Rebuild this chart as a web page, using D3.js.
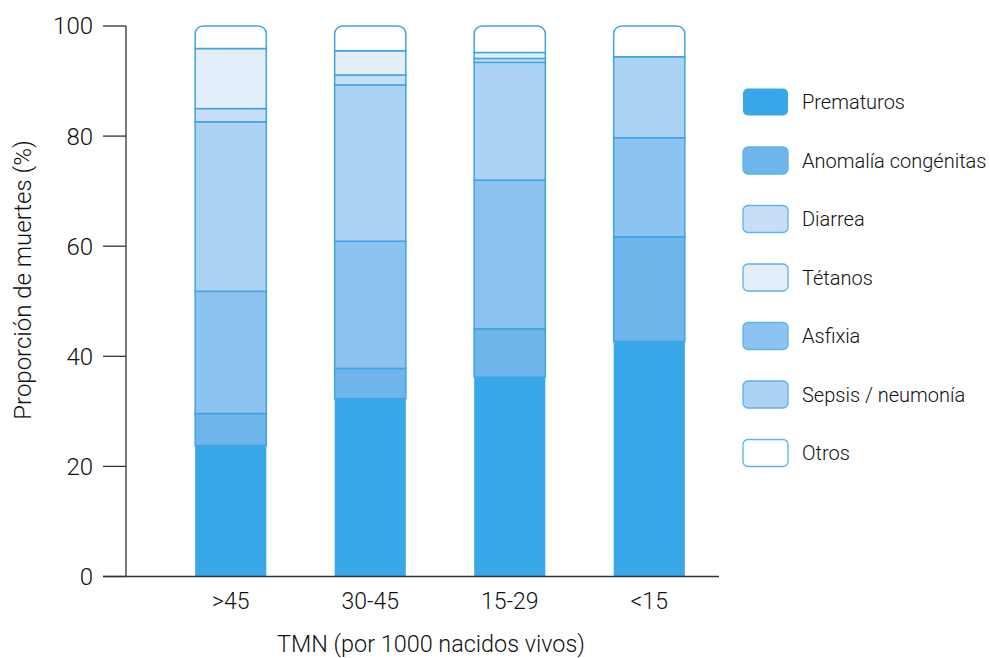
<!DOCTYPE html>
<html><head><meta charset="utf-8">
<script src="https://cdn.jsdelivr.net/npm/d3@7"></script>
<style>
body{margin:0;background:#fff;}
text{font-family:Roboto,"Noto Sans",sans-serif;font-weight:300;fill:#111;}
</style></head>
<body>
<svg id="chart" width="990" height="658"></svg>
<script>
const categories = [">45", "30-45", "15-29", "<15"];
const seriesNames = ["Prematuros", "Anomalía congénitas", "Asfixia", "Sepsis / neumonía", "Diarrea", "Tétanos", "Otros"];
const prematuros = [23.8, 32.3, 36.2, 42.7];
const anomalia   = [5.8, 5.5, 8.8, 19.0];
const asfixia    = [22.2, 23.1, 27.0, 18.0];
const sepsis     = [30.8, 28.4, 21.4, 14.7];
const diarrea    = [2.4, 1.8, 0.7, 0.0];
const tetanos    = [10.9, 4.4, 1.1, 0.0];
const otros      = [4.1, 4.5, 4.8, 5.6];
const legendOrder = ["Prematuros", "Anomalía congénitas", "Diarrea", "Tétanos", "Asfixia", "Sepsis / neumonía", "Otros"];
const yTicks = [0, 20, 40, 60, 80, 100];

const colors = {
  "Prematuros": "#38a7e8",
  "Anomalía congénitas": "#6eb5eb",
  "Asfixia": "#8dc3f0",
  "Sepsis / neumonía": "#acd3f3",
  "Diarrea": "#c7dff6",
  "Tétanos": "#e2eefa",
  "Otros": "#ffffff"
};
const seriesValues = [prematuros, anomalia, asfixia, sepsis, diarrea, tetanos, otros];
const table = categories.map((c, i) => {
  const row = {cat: c};
  seriesNames.forEach((s, j) => row[s] = seriesValues[j][i]);
  return row;
});

const svg = d3.select("#chart");
const x = d3.scaleBand().domain(categories).range([161, 719]).paddingInner(0.49).paddingOuter(0.245);
const y = d3.scaleLinear().domain([0, 100]).range([576.5, 26]);

const stack = d3.stack().keys(seriesNames)(table);

const stroke = "#3fa3e5";
const r = 8;
stack.forEach((layer) => {
  const name = layer.key;
  const g = svg.append("g");
  layer.forEach((d, i) => {
    const x0 = x(categories[i]), w = x.bandwidth();
    const yTop = y(d[1]), yBot = y(d[0]);
    if (d[1] - d[0] <= 0) return;
    if (name === "Otros") {
      const p = d3.path();
      p.moveTo(x0, yBot);
      p.lineTo(x0, yTop + r);
      p.arcTo(x0, yTop, x0 + r, yTop, r);
      p.lineTo(x0 + w - r, yTop);
      p.arcTo(x0 + w, yTop, x0 + w, yTop + r, r);
      p.lineTo(x0 + w, yBot);
      p.closePath();
      g.append("path").attr("d", p.toString()).attr("fill", colors[name])
        .attr("stroke", stroke).attr("stroke-width", 1.5);
    } else {
      g.append("rect").attr("x", x0).attr("y", yTop).attr("width", w).attr("height", yBot - yTop)
        .attr("fill", colors[name])
        .attr("stroke", name === "Prematuros" ? "none" : stroke)
        .attr("stroke-width", 1.5);
    }
  });
});

// axes
const axisColor = "#333";
svg.append("line").attr("x1", 103).attr("x2", 719).attr("y1", y(0)).attr("y2", y(0))
  .attr("stroke", axisColor).attr("stroke-width", 1.3);
svg.append("line").attr("x1", 126).attr("x2", 126).attr("y1", y(100)).attr("y2", y(0))
  .attr("stroke", axisColor).attr("stroke-width", 1.3);
yTicks.forEach(t => {
  svg.append("line").attr("x1", 103).attr("x2", 126).attr("y1", y(t)).attr("y2", y(t))
    .attr("stroke", axisColor).attr("stroke-width", 1.3);
  svg.append("text").attr("x", 93).attr("y", y(t)).attr("dy", "0.35em")
    .attr("text-anchor", "end").attr("font-size", 24).text(t);
});
categories.forEach(c => {
  svg.append("text").attr("x", x(c) + x.bandwidth() / 2).attr("y", 609)
    .attr("text-anchor", "middle").attr("font-size", 23).text(c);
});
svg.append("text").attr("x", 431).attr("y", 652).attr("text-anchor", "middle")
  .attr("font-size", 23.4).text("TMN (por 1000 nacidos vivos)");
svg.append("text").attr("transform", "translate(31,280) rotate(-90)")
  .attr("text-anchor", "middle").attr("font-size", 24).text("Proporción de muertes (%)");

// legend
const legend = svg.append("g");
legendOrder.forEach((name, i) => {
  const cy = 102 + i * 58.5;
  legend.append("rect").attr("x", 743).attr("y", cy - 13.5).attr("width", 45).attr("height", 27)
    .attr("rx", 5).attr("fill", colors[name])
    .attr("stroke", name === "Prematuros" ? "none" : "#5bb3ea").attr("stroke-width", 1.3);
  legend.append("text").attr("x", 802).attr("y", cy).attr("dy", "0.35em")
    .attr("font-size", 20).text(name);
});
</script>
</body></html>
